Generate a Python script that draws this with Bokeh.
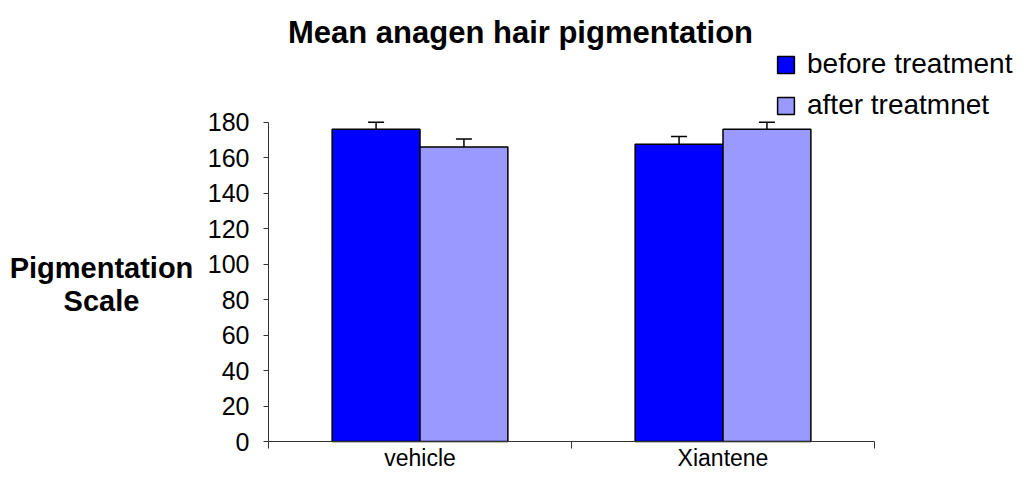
from bokeh.plotting import figure
from bokeh.models import (ColumnDataSource, Range1d, FixedTicker, Whisker, TeeHead,
                          Label, Legend, LegendItem, LinearAxis)
from bokeh.embed import file_html
from bokeh.resources import INLINE

# ---- data ----
categories = ["vehicle", "Xiantene"]
series_names = ["before treatment", "after treatmnet"]
before = [176, 167.5]
after = [166, 176]
before_err = [4, 4.5]
after_err = [4.5, 4]
y_ticks = [0, 20, 40, 60, 80, 100, 120, 140, 160, 180]
y_max = 180

FONT = "Liberation Sans"
C_BEFORE = "#0000FF"
C_AFTER = "#9999FF"
AX = "#333333"
OFF = 0.145
BW = 0.29

# ---- layout (pixels) ----
W, H = 1013, 470
X0_PX, X1_PX = 268, 874      # x axis extent
Y0_PX, YT_PX = 441, 121.7    # y=0 and y=top pixel rows
ncat = len(categories)
xk = (X1_PX - X0_PX) / ncat
yk = (Y0_PX - YT_PX) / y_max

centers = [i + 0.5 for i in range(ncat)]
src_b = ColumnDataSource(dict(x=[c - OFF for c in centers], top=before,
                              up=[v + e for v, e in zip(before, before_err)]))
src_a = ColumnDataSource(dict(x=[c + OFF for c in centers], top=after,
                              up=[v + e for v, e in zip(after, after_err)]))

p = figure(width=W, height=H, output_backend="svg", toolbar_location=None,
           x_range=Range1d(-X0_PX / xk, ncat + (W - X1_PX) / xk),
           y_range=Range1d(-(H - Y0_PX) / yk, y_max + YT_PX / yk),
           x_axis_location=None, y_axis_location=None,
           min_border=0)
p.outline_line_color = None
p.xgrid.visible = False
p.ygrid.visible = False

rb = p.vbar(x="x", top="top", width=BW, source=src_b, fill_color=C_BEFORE,
            line_color="black", line_width=1.5)
ra = p.vbar(x="x", top="top", width=BW, source=src_a, fill_color=C_AFTER,
            line_color="black", line_width=1.5)

for src in (src_b, src_a):
    w = Whisker(base="x", lower="top", upper="up", source=src, dimension="height",
                line_color="black", line_width=1.5, lower_head=None,
                upper_head=TeeHead(size=16, line_color="black", line_width=1.5))
    p.add_layout(w)

# y axis
yax = LinearAxis(fixed_location=0, bounds=(0, y_max),
                 ticker=FixedTicker(ticks=y_ticks))
yax.major_tick_in = 0
yax.major_tick_out = 5
yax.minor_tick_line_color = None
yax.major_label_standoff = 14
yax.major_label_text_font = FONT
yax.major_label_text_font_size = "25px"
yax.major_label_text_color = "black"
yax.axis_line_color = AX
yax.major_tick_line_color = AX
p.add_layout(yax, "left")

# x axis: labels at category centers, ticks at boundaries
xax = LinearAxis(fixed_location=0, bounds=(0, ncat),
                 ticker=FixedTicker(ticks=centers, minor_ticks=list(range(ncat + 1))))
xax.major_label_overrides = {c: n for c, n in zip(centers, categories)}
xax.major_tick_line_color = None
xax.major_tick_out = 0
xax.major_tick_in = 0
xax.minor_tick_out = 7
xax.minor_tick_in = 0
xax.minor_tick_line_color = AX
xax.axis_line_color = AX
xax.major_label_standoff = -4
xax.major_label_text_font = FONT
xax.major_label_text_font_size = "23px"
xax.major_label_text_color = "black"
p.add_layout(xax, "below")

# title
p.add_layout(Label(x=520, y=H - 32, x_units="screen", y_units="screen",
                   text="Mean anagen hair pigmentation", text_align="center",
                   text_baseline="alphabetic", text_font=FONT, text_font_style="bold",
                   text_font_size="31px", text_color="black"))
# y label
p.add_layout(Label(x=101, y=H - 267, x_units="screen", y_units="screen",
                   text="Pigmentation", text_align="center", text_baseline="alphabetic",
                   text_font=FONT, text_font_style="bold", text_font_size="29px",
                   text_color="black"))
p.add_layout(Label(x=101, y=H - 300, x_units="screen", y_units="screen",
                   text="Scale", text_align="center", text_baseline="alphabetic",
                   text_font=FONT, text_font_style="bold", text_font_size="29px",
                   text_color="black"))

legend = Legend(items=[LegendItem(label=series_names[0], renderers=[rb]),
                       LegendItem(label=series_names[1], renderers=[ra])],
                location=(775, H - 121), orientation="vertical",
                glyph_width=21, glyph_height=21, label_height=21, spacing=9,
                label_standoff=11, padding=0, margin=0,
                border_line_color=None, background_fill_alpha=0,
                label_text_font=FONT, label_text_font_size="28px",
                label_text_color="black")
p.add_layout(legend, "center")

open("out.html", "w").write(file_html(p, INLINE))
